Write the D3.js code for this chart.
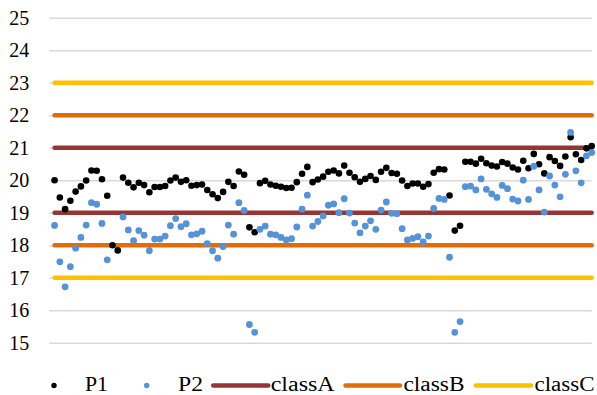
<!DOCTYPE html>
<html>
<head>
<meta charset="utf-8">
<script src="https://cdn.jsdelivr.net/npm/d3@7"></script>
<style>
  body { margin: 0; background: #fff; }
  svg text { font-family: "Liberation Serif", "Tinos", "DejaVu Serif", "Noto Serif", "Nimbus Roman", "FreeSerif", Times, serif; fill: #000; }
</style>
</head>
<body>
<div class="chart"></div>
<script>
var svgWidth = 597;
var svgHeight = 395;

// Series values (one per sample, sample number = index + 1)
var p1 = [20.0, 19.47, 19.11, 19.37, 19.65, 19.81, 19.99, 20.30, 20.29, 20.03,
  19.52, 18.0, 17.84, 20.08, 19.92, 19.78, 19.92, 19.85, 19.63, 19.79,
  19.79, 19.82, 19.99, 20.08, 19.95, 20.0, 19.83, 19.85, 19.87, 19.70,
  19.57, 19.45, 19.64, 19.95, 19.82, 20.27, 20.17, 18.55, 18.40, 19.91,
  19.98, 19.87, 19.83, 19.80, 19.76, 19.77, 19.94, 20.20, 20.41, 19.94,
  20.02, 20.11, 20.26, 20.30, 20.21, 20.45, 20.23, 20.09, 19.95, 20.04,
  20.13, 20.01, 20.26, 20.38, 20.22, 20.20, 19.99, 19.82, 19.90, 19.90,
  19.80, 19.88, 20.23, 20.34, 20.33, 19.53, 18.45, 18.60, 20.57, 20.57,
  20.51, 20.66, 20.52, 20.45, 20.42, 20.56, 20.51, 20.39, 20.33, 20.60,
  20.37, 20.81, 20.49, 20.21, 20.71, 20.59, 20.44, 20.73, 21.32, 20.80,
  20.62, 20.98, 21.05];

var p2 = [18.61, 17.49, 16.72, 17.34, 17.91, 18.24, 18.62, 19.31, 19.26, 18.67,
  17.55, null, null, 18.87, 18.47, 18.14, 18.45, 18.31, 17.83, 18.19,
  18.19, 18.28, 18.60, 18.82, 18.57, 18.66, 18.32, 18.35, 18.43, 18.05,
  17.83, 17.60, 17.96, 18.62, 18.34, 19.31, 19.07, 15.56, 15.32, 18.49,
  18.59, 18.34, 18.32, 18.24, 18.16, 18.20, 18.56, 19.11, 19.54, 18.59,
  18.73, 18.90, 19.23, 19.27, 19.00, 19.43, 18.99, 18.68, 18.38, 18.59,
  18.75, 18.49, 19.08, 19.33, 18.98, 18.97, 18.51, 18.16, 18.21, 18.26,
  18.10, 18.28, 19.13, 19.44, 19.41, 17.63, 15.32, 15.65, 19.80, 19.82,
  19.70, 20.04, 19.72, 19.58, 19.47, 19.84, 19.74, 19.42, 19.36, 20.00,
  19.41, 20.43, 19.70, 19.02, 20.13, 19.85, 19.49, 20.18, 21.47, 20.29,
  19.92, 20.75, 20.85];

// Class limits (each drawn as a horizontal line across all samples)
var classA = [19, 21];
var classB = [18, 22];
var classC = [17, 23];

var yTicks = [15, 16, 17, 18, 19, 20, 21, 22, 23, 24, 25];

var colors = {
  P1: "#000000",
  P2: "#5592d6",
  classA: "#963634",
  classB: "#e36c0a",
  classC: "#ffc000"
};

var plot = { left: 49.3, right: 591.7, top: 17.7, bottom: 342.7 };

var svg = d3.select(".chart")
  .append("svg")
  .attr("width", svgWidth)
  .attr("height", svgHeight);

var n = p1.length;

var xScale = d3.scaleLinear()
  .domain([0, n])
  .range([plot.left, plot.right]);

var yScale = d3.scaleLinear()
  .domain([15, 25])
  .range([plot.bottom, plot.top]);

// gridlines + tick labels
var leftAxis = d3.axisLeft(yScale)
  .tickValues(yTicks)
  .tickFormat(d3.format("d"))
  .tickSize(-(plot.right - plot.left))
  .tickPadding(20);

var yAxis = svg.append("g")
  .attr("transform", `translate(${plot.left}, 0)`)
  .call(leftAxis)
  .attr("font-family", null)
  .attr("font-size", 20);

yAxis.select(".domain").remove();
yAxis.selectAll("line")
  .attr("stroke", "#d9d9d9")
  .attr("stroke-width", 1.5);

// class lines
var line = d3.line()
  .x(d => xScale(d.x))
  .y(d => yScale(d.y));

var classGroup = svg.append("g");
[["classA", classA], ["classB", classB], ["classC", classC]].forEach(function(c) {
  c[1].forEach(function(level) {
    classGroup.append("path")
      .datum([{ x: 1, y: level }, { x: n, y: level }])
      .attr("d", line)
      .attr("fill", "none")
      .attr("stroke", colors[c[0]])
      .attr("stroke-width", 4.5)
      .attr("stroke-linecap", "round");
  });
});

// points
function drawPoints(values, color, r) {
  svg.append("g")
    .selectAll("circle")
    .data(values.map((v, i) => ({ x: i + 1, y: v })).filter(d => d.y !== null))
    .enter()
    .append("circle")
    .attr("cx", d => xScale(d.x))
    .attr("cy", d => yScale(d.y))
    .attr("r", r)
    .attr("fill", color);
}

drawPoints(p1, colors.P1, 3.3);
drawPoints(p2, colors.P2, 3.4);

// legend
var legendY = 385.5;
var legendItems = [
  { name: "P1", type: "dot", sx: 54, tx: 85, tw: 23 },
  { name: "P2", type: "dot", sx: 146.7, tx: 178, tw: 25 },
  { name: "classA", type: "line", sx: 213.3, ex: 268.3, tx: 270.7, tw: 64 },
  { name: "classB", type: "line", sx: 345.5, ex: 400, tx: 403.5, tw: 61 },
  { name: "classC", type: "line", sx: 476, ex: 531, tx: 534.5, tw: 60 }
];

var legend = svg.append("g")
  .attr("font-size", 20);

legendItems.forEach(function(item) {
  if (item.type === "dot") {
    legend.append("circle")
      .attr("cx", item.sx)
      .attr("cy", legendY)
      .attr("r", 2.7)
      .attr("fill", colors[item.name]);
  } else {
    legend.append("line")
      .attr("x1", item.sx)
      .attr("x2", item.ex)
      .attr("y1", legendY)
      .attr("y2", legendY)
      .attr("stroke", colors[item.name])
      .attr("stroke-width", 4.5)
      .attr("stroke-linecap", "round");
  }
  legend.append("text")
    .attr("x", item.tx)
    .attr("y", 391)
    .attr("textLength", item.tw)
    .attr("lengthAdjust", "spacingAndGlyphs")
    .text(item.name);
});
</script>
</body>
</html>
